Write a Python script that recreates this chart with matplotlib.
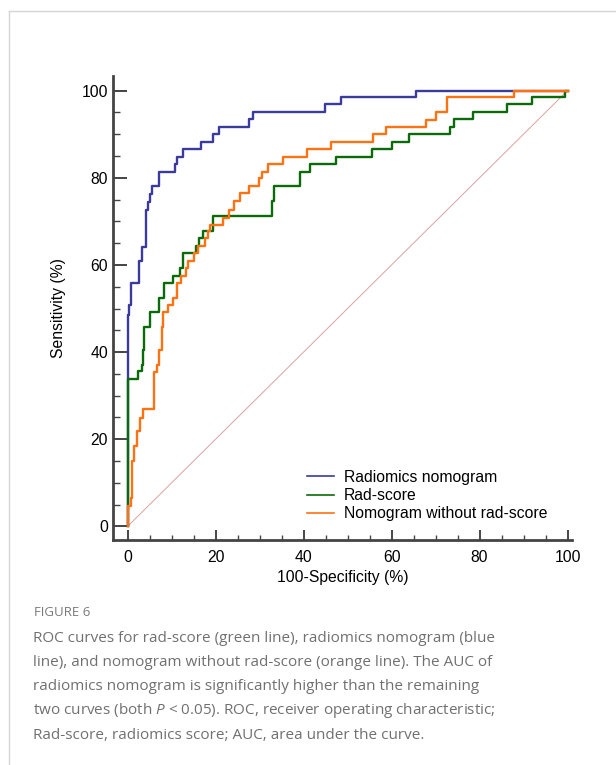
import matplotlib
matplotlib.use("Agg")
import matplotlib.pyplot as plt
from matplotlib.lines import Line2D
from matplotlib.ticker import MultipleLocator

# ROC curves (100-specificity, sensitivity), step corners
nomo_fpr = [0, 0, 0.4, 0.7, 2.6, 3.2, 4.1, 4.6, 5.1, 5.6, 7.2, 10.8, 11.2, 12.7, 16.6,
            19.5, 20.9, 27.6, 28.5, 44.8, 48.6, 65.6, 100]
nomo_tpr = [0, 48.6, 50.9, 55.8, 60.8, 64.2, 72.6, 74.5, 76.2, 78.0, 81.4, 83.1, 84.8, 86.5, 88.3,
            90.0, 91.7, 93.4, 95.0, 96.8, 98.5, 100, 100]

rad_fpr = [0, 0, 2.3, 3.2, 3.5, 3.8, 5.1, 7.2, 8.2, 10.4, 12.0, 12.7, 15.5, 16.3, 17.2, 19.5,
           32.9, 33.2, 39.2, 41.5, 47.4, 55.5, 60.2, 64.0, 73.3, 74.3, 78.6, 86.2, 92.0, 99.3, 100]
rad_tpr = [0, 33.9, 35.6, 37.1, 40.5, 45.7, 49.2, 52.5, 55.8, 57.4, 59.3, 62.7, 64.4, 66.1, 67.8, 71.2,
           74.7, 78.1, 81.2, 83.1, 84.8, 86.5, 88.2, 90.0, 91.7, 93.4, 95.1, 96.8, 98.4, 100, 100]

clin_fpr = [0, 0, 0.7, 1.1, 1.5, 2.2, 2.8, 3.6, 6.0, 6.6, 7.2, 7.8, 8.1, 9.2, 10.4, 11.3, 12.2,
            13.3, 13.8, 15.0, 16.0, 17.6, 18.2, 18.8, 21.7, 23.0, 24.1, 25.6, 27.5, 29.8, 30.5,
            32.0, 35.4, 40.7, 46.3, 55.7, 58.8, 67.8, 70.1, 72.6, 87.9, 100]
clin_tpr = [0, 4.8, 6.6, 15.0, 18.4, 21.8, 24.9, 27.0, 35.5, 37.1, 40.5, 45.7, 49.2, 50.9, 52.5, 55.8, 57.5,
            59.3, 61.0, 62.7, 64.4, 66.1, 67.8, 69.2, 70.7, 72.6, 74.7, 76.4, 78.1, 79.9, 81.4,
            83.1, 84.8, 86.5, 88.3, 90.0, 91.6, 93.2, 95.0, 98.4, 100, 100]

labels = ["Radiomics nomogram", "Rad-score", "Nomogram without rad-score"]
colors = ["#3b3b9c", "#0b6b0b", "#ff7212"]

caption_title = "FIGURE 6"
caption_lines = [
    "ROC curves for rad-score (green line), radiomics nomogram (blue",
    "line), and nomogram without rad-score (orange line). The AUC of",
    "radiomics nomogram is significantly higher than the remaining",
    "two curves (both $P$ < 0.05). ROC, receiver operating characteristic;",
    "Rad-score, radiomics score; AUC, area under the curve.",
]

plt.rcParams['font.family'] = ['Liberation Sans', 'DejaVu Sans']
plt.rcParams['mathtext.fontset'] = 'custom'
plt.rcParams['mathtext.rm'] = 'Open Sans'
plt.rcParams['mathtext.it'] = 'Open Sans:italic'

fs = 11.3
fig = plt.figure(figsize=(6.16, 7.65), dpi=100)
ax = fig.add_axes([113 / 616, 1 - 540 / 765, 459 / 616, (540 - 75.7) / 765])

ax.plot([0, 100], [0, 100], color="#d9a3a3", lw=0.7)
ax.step(nomo_fpr, nomo_tpr, where="post", color=colors[0], lw=1.7)
ax.step(rad_fpr, rad_tpr, where="post", color=colors[1], lw=1.7)
ax.step(clin_fpr, clin_tpr, where="post", color=colors[2], lw=1.7)

ax.set_xlim(-3.3, 101)
ax.set_ylim(-3.1, 103.4)
for s in ["top", "right"]:
    ax.spines[s].set_visible(False)
for s in ["left", "bottom"]:
    ax.spines[s].set_linewidth(2)
    ax.spines[s].set_color("#444444")

ax.xaxis.set_major_locator(MultipleLocator(20))
ax.xaxis.set_minor_locator(MultipleLocator(5))
ax.yaxis.set_major_locator(MultipleLocator(20))
ax.yaxis.set_minor_locator(MultipleLocator(5))
ax.tick_params(axis="x", which="major", direction="in", length=7.2, width=1.4, color="#444444", labelsize=fs, pad=7)
ax.tick_params(axis="x", which="minor", direction="in", length=3.6, width=1, color="#444444")
ax.tick_params(axis="y", which="major", direction="in", length=9.8, width=1.4, color="#444444", labelsize=fs, pad=3.5)
ax.tick_params(axis="y", which="minor", direction="in", length=5, width=1, color="#444444")
ax.set_xlabel("100-Specificity (%)", fontsize=fs, labelpad=4)
ax.set_ylabel("Sensitivity (%)", fontsize=fs, labelpad=11)

handles = [Line2D([], [], color=c, lw=1.2) for c in colors]
ax.legend(handles, labels, loc="upper left", bbox_to_anchor=(0.4227, 0.1508), frameon=False,
          fontsize=fs, handlelength=1.7, handletextpad=0.64, labelspacing=0.2, borderpad=0,
          borderaxespad=0)

# frame lines of the figure panel
fig.add_artist(Line2D([9 / 616, 9 / 616], [0, 1 - 11 / 765], color="#d6d6d6", lw=1))
fig.add_artist(Line2D([9 / 616, 1], [1 - 11 / 765, 1 - 11 / 765], color="#d6d6d6", lw=1))

fig.text(34 / 616, 1 - 612 / 765, caption_title, family="Open Sans", fontsize=9.5, color="#7a7a7a", va="center")
for i, line in enumerate(caption_lines):
    fig.text(33 / 616, 1 - (638 + i * 24.3) / 765, line, family="Open Sans", fontsize=11.0,
             color="#707070", va="center")

fig.savefig("out.png", dpi=100, facecolor="white")
